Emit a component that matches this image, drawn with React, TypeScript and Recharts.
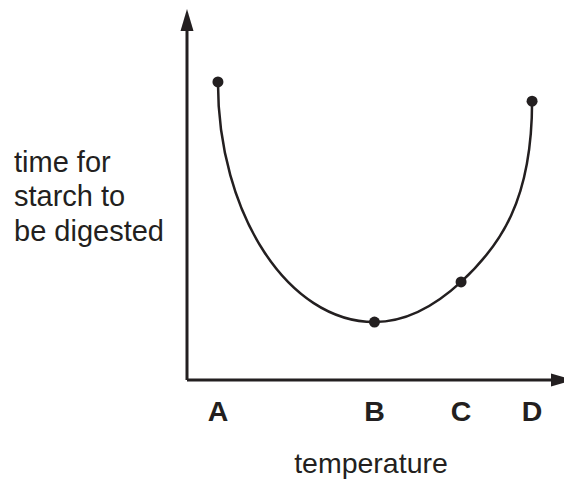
import React from "react";
import { LineChart, Line, XAxis, YAxis, Label } from "recharts";

// temperatures (arbitrary 0-100 scale) and digestion times (arbitrary 0-100 scale)
const pointNames = ["A", "B", "C", "D"];
const temperatures = [8.5, 51.5, 75.3, 94.8];
const digestTimes = [85.4, 16.6, 28.1, 79.9];
const yLabelLines = ["time for", "starch to", "be digested"];
const xLabel = "temperature";

const data = pointNames.map((name, i) => ({
  name,
  t: temperatures[i],
  time: digestTimes[i],
}));

const INK = "#231f20";
const FONT = "'Liberation Sans', Arial, Helvetica, sans-serif";

// curve that leaves the end points vertically, like a hand drawn U shape
const uCurve = (context: any) => {
  let xs: number[] = [];
  let ys: number[] = [];
  return {
    areaStart() {},
    areaEnd() {},
    lineStart() {
      xs = [];
      ys = [];
    },
    point(x: number, y: number) {
      xs.push(+x);
      ys.push(+y);
    },
    lineEnd() {
      const n = xs.length;
      if (n === 0) return;
      context.moveTo(xs[0], ys[0]);
      if (n === 1) return;
      const m: number[] = new Array(n).fill(0);
      for (let i = 1; i < n - 1; i++) {
        const h0 = xs[i] - xs[i - 1];
        const h1 = xs[i + 1] - xs[i];
        const s0 = (ys[i] - ys[i - 1]) / h0;
        const s1 = (ys[i + 1] - ys[i]) / h1;
        if (s0 * s1 <= 0) continue;
        const p = (s0 * h1 + s1 * h0) / (h0 + h1);
        m[i] =
          (Math.sign(s0) + Math.sign(s1)) *
          Math.min(Math.abs(s0), Math.abs(s1), 0.5 * Math.abs(p));
      }
      for (let i = 0; i < n - 1; i++) {
        const x0 = xs[i], y0 = ys[i], x1 = xs[i + 1], y1 = ys[i + 1];
        const h = x1 - x0;
        const first = i === 0;
        const last = i === n - 2;
        const k = first || last ? 0.55 : 1 / 3;
        const c1x = first ? x0 : x0 + h * k;
        const c1y = first ? y0 + (y1 - y0) * 0.55 : y0 + m[i] * h * k;
        const c2x = last ? x1 : x1 - h * k;
        const c2y = last ? y1 - (y1 - y0) * 0.55 : y1 - m[i + 1] * h * k;
        context.bezierCurveTo(c1x, c1y, c2x, c2y, x1, y1);
      }
    },
  };
};

const Arrows = () => (
  <svg width={0} height={0} style={{ position: "absolute" }}>
    <defs>
      <marker
        id="axisArrow"
        viewBox="0 0 22 14"
        refX={0}
        refY={7}
        markerWidth={22}
        markerHeight={14}
        markerUnits="userSpaceOnUse"
        orient="auto-start-reverse"
      >
        <path d="M0,0.5 L22,7 L0,13.5 Z" fill={INK} />
      </marker>
    </defs>
  </svg>
);

const YTitle = () => (
  <text fontFamily={FONT} fontSize={29} fill={INK}>
    {yLabelLines.map((line, i) => (
      <tspan key={line} x={14} y={172 + i * 34.3}>
        {line}
      </tspan>
    ))}
  </text>
);

const XTitle = () => (
  <text
    x={371}
    y={473}
    textAnchor="middle"
    fontFamily={FONT}
    fontSize={28.5}
    fill={INK}
  >
    {xLabel}
  </text>
);

export default function App() {
  return (
    <div style={{ position: "absolute", left: 0, top: 0 }}>
      <Arrows />
      <LineChart
        width={564}
        height={482}
        data={data}
        margin={{ top: 31, right: 13, bottom: 0, left: 0 }}
      >
        <XAxis
          type="number"
          dataKey="t"
          domain={[0, 100]}
          ticks={temperatures}
          interval={0}
          tickFormatter={(v: number) => pointNames[temperatures.indexOf(v)]}
          tickLine={false}
          tickSize={0}
          tickMargin={21}
          height={102}
          axisLine={{ stroke: INK, strokeWidth: 3, markerEnd: "url(#axisArrow)" }}
          tick={{ fill: INK, fontSize: 28.5, fontWeight: "bold", fontFamily: FONT }}
        >
          <Label content={() => <XTitle />} />
        </XAxis>
        <YAxis
          type="number"
          domain={[0, 100]}
          width={187}
          tick={false}
          tickLine={false}
          axisLine={{ stroke: INK, strokeWidth: 3, markerStart: "url(#axisArrow)" }}
        >
          <Label content={() => <YTitle />} />
        </YAxis>
        <Line
          dataKey="time"
          type={uCurve as any}
          stroke={INK}
          strokeWidth={2.5}
          dot={{ r: 5.5, fill: INK, stroke: INK, strokeWidth: 0 }}
          activeDot={false}
          isAnimationActive={false}
        />
      </LineChart>
    </div>
  );
}
